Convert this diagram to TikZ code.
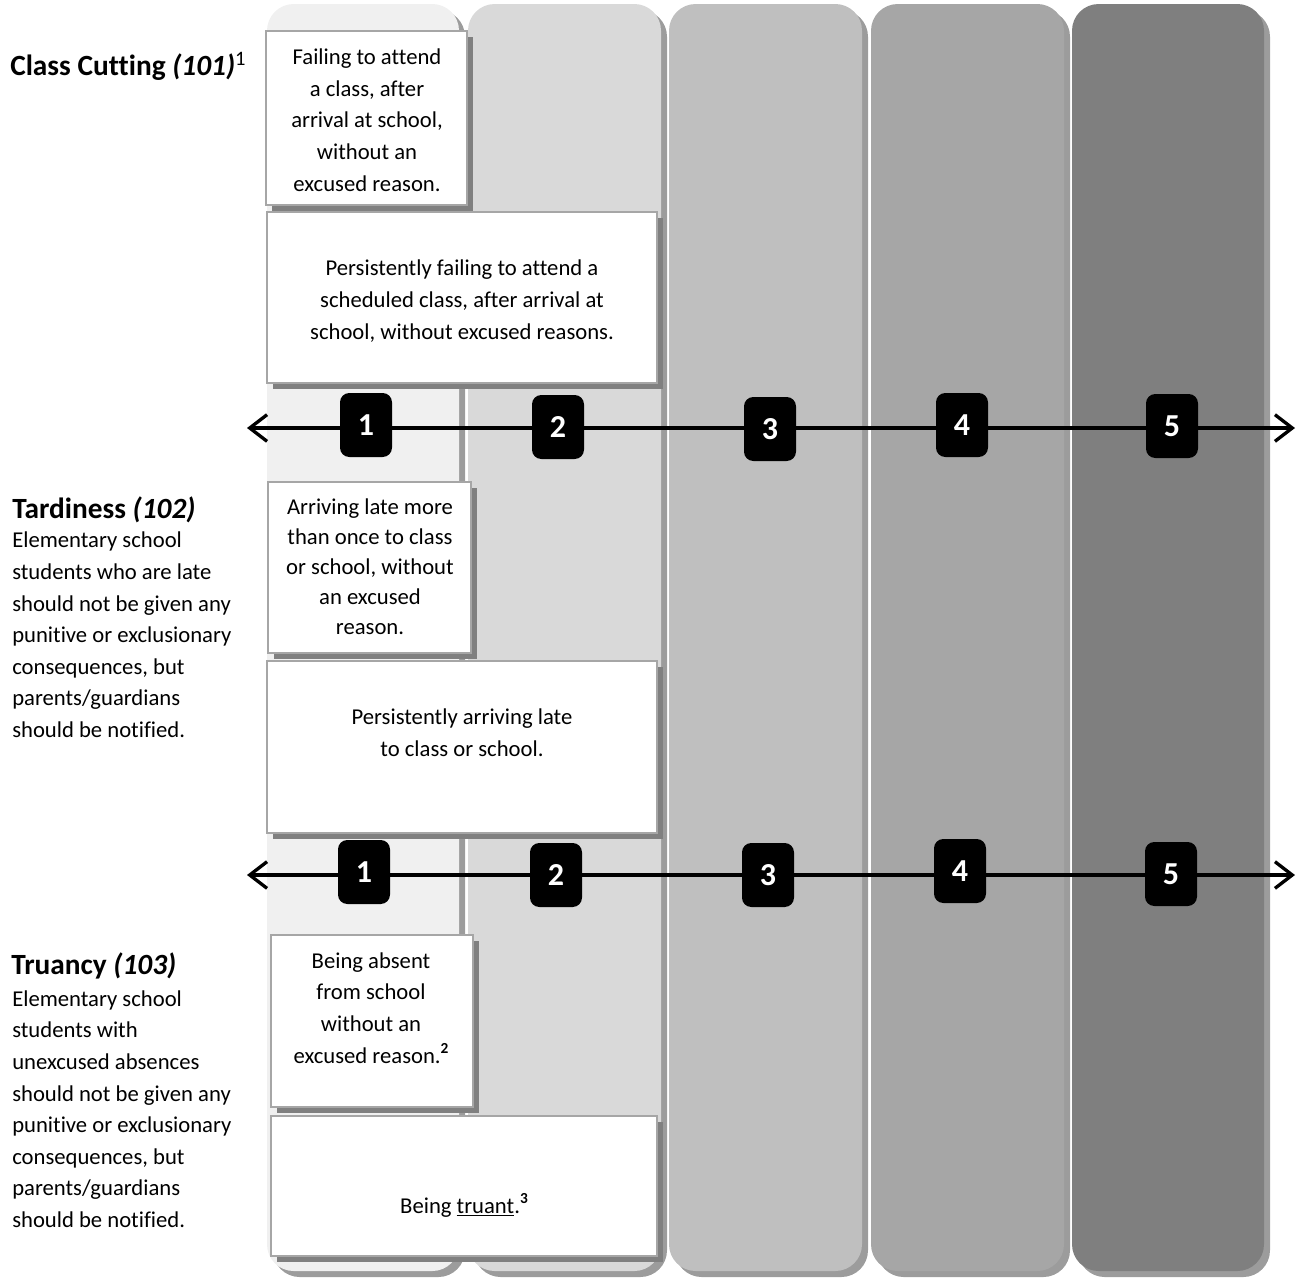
\documentclass[tikz,border=0pt]{standalone}
\usepackage{fontspec}
\setmainfont{Carlito}[Ligatures=NoCommon]
\usetikzlibrary{arrows.meta,shadows}
\definecolor{colA}{HTML}{F0F0F0}
\definecolor{colB}{HTML}{D9D9D9}
\definecolor{colC}{HTML}{BFBFBF}
\definecolor{colD}{HTML}{A6A6A6}
\definecolor{colE}{HTML}{7F7F7F}
\definecolor{colshadow}{HTML}{9C9C9C}
\definecolor{boxborder}{HTML}{A6A6A6}
\definecolor{boxshadow}{HTML}{808080}
\newcommand{\fnmark}[1]{\raisebox{0.45em}{\fontsize{11.5}{12}\selectfont\bfseries #1}}
\begin{document}
\begin{tikzpicture}[x=0.75pt,y=-0.75pt,
  column/.style={rectangle, rounded corners=20pt, inner sep=0pt, draw=none,
    minimum height={1267*0.75pt},
    drop shadow={shadow xshift=4.5pt, shadow yshift=-4.5pt, fill=colshadow, opacity=1}},
  txtbox/.style={rectangle, fill=white, draw=boxborder, line width=1.1pt, inner sep=0pt,
    drop shadow={shadow xshift=4.5pt, shadow yshift=-4.5pt, fill=boxshadow, opacity=1}},
  numbox/.style={rectangle, rounded corners=7pt, fill=black, text=white, inner sep=0pt,
    font=\fontsize{24}{28}\selectfont\bfseries,
    minimum width=39pt, minimum height=48pt},
  body/.style={font=\fontsize{17}{23.8}\selectfont, align=center, inner sep=0pt},
  lefttext/.style={font=\fontsize{17}{23.7}\selectfont, align=left, inner sep=0pt, anchor=west},
  title/.style={font=\fontsize{22}{26}\selectfont\bfseries, inner sep=0pt, anchor=west},
  scale line/.style={line width=2.5pt, {Straight Barb[length=13pt,width=20pt]}-{Straight Barb[length=13pt,width=20pt]}}
]
\useasboundingbox (0,0) rectangle (1296,1283);

% columns
\node[column, fill=colA, minimum width={192*0.75pt}] (col1) at (363,637.5) {};
\node[column, fill=colB, minimum width={193*0.75pt}] (col2) at (564.5,637.5) {};
\node[column, fill=colC, minimum width={193*0.75pt}] (col3) at (765.5,637.5) {};
\node[column, fill=colD, minimum width={193*0.75pt}] (col4) at (967.5,637.5) {};
\node[column, fill=colE, minimum width={192*0.75pt}] (col5) at (1168,637.5) {};

% scale lines
\coordinate (L1) at (247,428);
\coordinate (R1) at (1295,428);
\coordinate (L2) at (247,875);
\coordinate (R2) at (1295,875);
\draw[scale line] (L1) -- (R1);
\draw[scale line] (L2) -- (R2);

\node[numbox] (n11) at (366,425) {1};
\node[numbox] (n12) at (558,427) {2};
\node[numbox] (n13) at (770,429) {3};
\node[numbox] (n14) at (962,425) {4};
\node[numbox] (n15) at (1172,426) {5};

\node[numbox] (n21) at (364,872) {1};
\node[numbox] (n22) at (556,875) {2};
\node[numbox] (n23) at (768,875) {3};
\node[numbox] (n24) at (960,871) {4};
\node[numbox] (n25) at (1171,874) {5};

% text boxes
\node[txtbox, minimum width={201*0.75pt}, minimum height={174*0.75pt}] (bA) at (366.5,118) {};
\node[txtbox, minimum width={390*0.75pt}, minimum height={171*0.75pt}] (bB) at (462,297.5) {};
\node[txtbox, minimum width={203*0.75pt}, minimum height={171*0.75pt}] (bC) at (369.5,567.5) {};
\node[txtbox, minimum width={390*0.75pt}, minimum height={172*0.75pt}] (bD) at (462,747) {};
\node[txtbox, minimum width={202*0.75pt}, minimum height={172*0.75pt}] (bE) at (372,1021) {};
\node[txtbox, minimum width={386*0.75pt}, minimum height={140*0.75pt}] (bF) at (464,1186) {};

\node[body] (tA) at (367,120) {Failing to attend\\a class, after\\arrival at school,\\without an\\excused reason.};
\node[body] (tB) at (462,301) {Persistently failing to attend a\\scheduled class, after arrival at\\school, without excused reasons.};
\node[body, font=\fontsize{17}{22.5}\selectfont] (tC) at (370,567) {Arriving late more\\than once to class\\or school, without\\an excused\\reason.};
\node[body] (tD) at (462,733) {Persistently arriving late\\to class or school.};
\node[body] (tE) at (371,1008) {Being absent\\from school\\without an\\excused reason.\fnmark{2}};
\node[body] (tF) at (464,1205) {Being \underline{truant}.\fnmark{3}};

% left labels
\node[title] (h1) at (10,66) {Class Cutting \textit{(101)}\textsuperscript{\mdseries 1}};
\node[title] (h2) at (12,510) {Tardiness \textit{(102)}};
\node[lefttext] (d2) at (12,635) {Elementary school\\students who are late\\should not be given any\\punitive or exclusionary\\consequences, but\\parents/guardians\\should be notified.};
\node[title] (h3) at (11,966) {Truancy \textit{(103)}};
\node[lefttext] (d3) at (12,1109) {Elementary school\\students with\\unexcused absences\\should not be given any\\punitive or exclusionary\\consequences, but\\parents/guardians\\should be notified.};
\end{tikzpicture}
\end{document}
